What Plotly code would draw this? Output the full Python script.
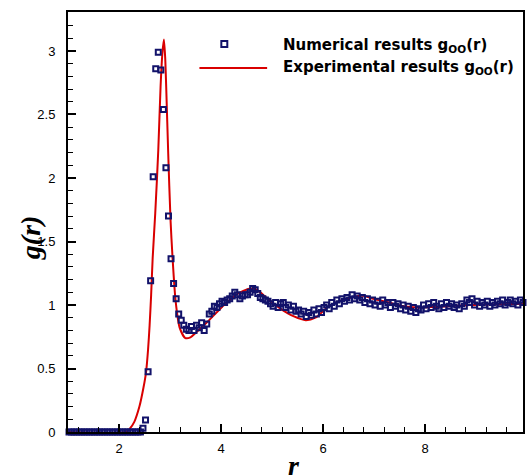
import plotly.graph_objects as go

# ---------------- data ----------------
r_num = [1.02, 1.07, 1.12, 1.17, 1.22, 1.27, 1.32, 1.37, 1.42, 1.47,
         1.52, 1.57, 1.62, 1.67, 1.72, 1.77, 1.82, 1.87, 1.92, 1.97,
         2.02, 2.07, 2.12, 2.17, 2.22, 2.27, 2.32, 2.37, 2.42, 2.47,
         2.52, 2.57, 2.62, 2.67, 2.72, 2.77, 2.82, 2.87, 2.92, 2.97,
         3.02, 3.07, 3.12, 3.17, 3.22, 3.27, 3.32, 3.37, 3.42, 3.47,
         3.52, 3.57, 3.62, 3.67, 3.72, 3.77, 3.82, 3.87, 3.92, 3.97,
         4.02, 4.07, 4.12, 4.17, 4.22, 4.27, 4.32, 4.37, 4.42, 4.47,
         4.52, 4.57, 4.62, 4.67, 4.72, 4.77, 4.82, 4.87, 4.92, 4.97,
         5.02, 5.07, 5.12, 5.17, 5.22, 5.27, 5.32, 5.37, 5.42, 5.47,
         5.52, 5.57, 5.62, 5.67, 5.72, 5.77, 5.82, 5.87, 5.92, 5.97,
         6.02, 6.07, 6.12, 6.17, 6.22, 6.27, 6.32, 6.37, 6.42, 6.47,
         6.52, 6.57, 6.62, 6.67, 6.72, 6.77, 6.82, 6.87, 6.92, 6.97,
         7.02, 7.07, 7.12, 7.17, 7.22, 7.27, 7.32, 7.37, 7.42, 7.47,
         7.52, 7.57, 7.62, 7.67, 7.72, 7.77, 7.82, 7.87, 7.92, 7.97,
         8.02, 8.07, 8.12, 8.17, 8.22, 8.27, 8.32, 8.37, 8.42, 8.47,
         8.52, 8.57, 8.62, 8.67, 8.72, 8.77, 8.82, 8.87, 8.92, 8.97,
         9.02, 9.07, 9.12, 9.17, 9.22, 9.27, 9.32, 9.37, 9.42, 9.47,
         9.52, 9.57, 9.62, 9.67, 9.72, 9.77, 9.82, 9.87, 9.92]

g_num = [0.0, 0.0, 0.0, 0.0, 0.0, 0.0, 0.0, 0.0, 0.0, 0.0,
         0.0, 0.0, 0.0, 0.0, 0.0, 0.0, 0.0, 0.0, 0.0, 0.0,
         0.0, 0.0, 0.0, 0.0, 0.0, 0.0, 0.0, 0.0, 0.0,
         0.03, 0.095, 0.475, 1.19, 2.01, 2.86, 2.99, 2.85, 2.54, 2.08, 1.70,
         1.365, 1.17, 1.05, 0.93, 0.88, 0.84, 0.81, 0.80, 0.83, 0.80,
         0.84, 0.82, 0.86, 0.80, 0.85, 0.93, 0.95, 0.99, 0.98, 1.01,
         1.03, 1.02, 1.04, 1.05, 1.07, 1.10, 1.08, 1.05, 1.07, 1.08,
         1.08, 1.10, 1.13, 1.12, 1.09, 1.06, 1.05, 1.04, 1.03, 1.01,
         0.99, 1.02, 0.98, 1.01, 1.02, 0.98, 1.00, 0.96, 0.99, 0.95,
         0.96, 0.93, 0.95, 0.91, 0.94, 0.92, 0.96, 0.93, 0.97, 0.94,
         0.98, 1.00, 0.97, 1.02, 0.99, 1.04, 1.01, 1.05, 1.03, 1.06,
         1.04, 1.08, 1.05, 1.07, 1.04, 1.06, 1.02, 1.05, 1.01, 1.04,
         1.00, 1.03, 0.99, 1.04, 1.00, 1.02, 0.98, 1.02, 0.99, 1.01,
         0.97, 1.00, 0.96, 0.99, 0.95, 0.98, 0.94, 0.97, 0.96, 1.00,
         0.97, 1.01, 0.98, 1.02, 0.99, 0.97, 1.01, 0.98, 1.02, 0.99,
         1.01, 0.98, 1.00, 0.97, 1.01, 0.99, 1.04, 1.02, 1.05, 1.00,
         1.03, 0.99, 1.02, 1.00, 1.03, 0.99, 1.02, 1.00, 1.03, 1.01,
         1.04, 1.00, 1.02, 1.04, 1.01, 1.03, 1.00, 1.04, 1.02]

r_exp = [1.00, 2.14, 2.20, 2.30, 2.40, 2.48, 2.53, 2.57, 2.60, 2.63,
         2.66, 2.71, 2.77, 2.815, 2.85, 2.88, 2.905, 2.925, 2.965, 3.01,
         3.05, 3.11, 3.19, 3.30, 3.40, 3.50, 3.74, 4.06, 4.33, 4.58,
         4.70, 4.91, 5.17, 5.43, 5.66, 5.85, 6.11, 6.38, 6.70, 6.83,
         6.96, 7.29, 7.58, 7.84, 8.20, 8.88, 9.92]
g_exp = [0.0, 0.0, 0.02, 0.08, 0.20, 0.35, 0.47, 0.65, 0.84, 1.08,
         1.37, 1.72, 2.22, 2.72, 2.98, 3.09, 2.95, 2.72, 2.19, 1.67,
         1.37, 1.03, 0.82, 0.74, 0.745, 0.78, 0.87, 1.00, 1.09, 1.13,
         1.12, 1.05, 0.97, 0.91, 0.88, 0.90, 0.99, 1.04, 1.07, 1.07,
         1.05, 1.02, 0.99, 0.98, 0.985, 1.00, 1.01]

x_ticks = [2, 4, 6, 8]
y_ticks = [0, 0.5, 1, 1.5, 2, 2.5, 3]
x_tick_labels = ["2", "4", "6", "8"]
y_tick_labels = ["0", "0.5", "1", "1.5", "2", "2.5", "3"]

NAVY = "#12126a"
RED = "#d90000"

fig = go.Figure()
fig.add_trace(go.Scatter(
    x=r_exp, y=g_exp, mode="lines",
    line=dict(color=RED, width=2, shape="spline", smoothing=0.7),
    cliponaxis=False, showlegend=False))
fig.add_trace(go.Scatter(
    x=r_num, y=g_num, mode="markers",
    marker=dict(symbol="square-open", size=5, color=NAVY,
                line=dict(color=NAVY, width=2)),
    cliponaxis=False, showlegend=False))

# plot area in px: x 68..525, y 12..432
def px(xp):
    return (xp - 68) / 457.0

def py(yp):
    return (432 - yp) / 420.0

shapes = [
    dict(type="rect", xref="paper", yref="paper",
         x0=px(222), x1=px(228), y0=py(47), y1=py(41),
         line=dict(color=NAVY, width=2), fillcolor="white"),
    dict(type="line", xref="paper", yref="paper",
         x0=px(200), x1=px(268), y0=py(68), y1=py(68),
         line=dict(color=RED, width=2)),
]

legend_font = dict(family="DejaVu Sans", size=15, color="black")
annotations = [
    dict(xref="paper", yref="paper", x=px(282), y=py(45), xanchor="left",
         yanchor="middle", showarrow=False, font=legend_font,
         text="<b>Numerical results g<sub>OO</sub>(r)</b>"),
    dict(xref="paper", yref="paper", x=px(282), y=py(67), xanchor="left",
         yanchor="middle", showarrow=False, font=legend_font,
         text="<b>Experimental results g<sub>OO</sub>(r)</b>"),
    dict(xref="paper", yref="paper", x=px(30), y=py(238), xanchor="center",
         yanchor="middle", showarrow=False, textangle=-90,
         font=dict(family="Liberation Serif, Times New Roman", size=28, color="black"),
         text="<b><i>g(r)</i></b>"),
    dict(xref="paper", yref="paper", x=px(295), y=py(465), xanchor="center",
         yanchor="middle", showarrow=False,
         font=dict(family="Liberation Serif, Times New Roman", size=28, color="black"),
         text="<b><i>r</i></b>"),
]

tick_font = dict(family="Liberation Sans, Arial", size=13, color="black")

fig.update_layout(
    width=528, height=475,
    margin=dict(l=68, r=3, t=12, b=43),
    paper_bgcolor="white", plot_bgcolor="white",
    shapes=shapes, annotations=annotations,
    xaxis=dict(range=[1.0, 9.92], tickmode="array", tickvals=x_ticks,
               ticktext=x_tick_labels, ticks="inside", ticklen=8, tickwidth=2,
               tickcolor="black", showline=True, linecolor="black", linewidth=2,
               mirror=True, showgrid=False, zeroline=False, tickfont=tick_font,
               ticklabelstandoff=3,
               minor=dict(tick0=0, dtick=0.4, ticks="inside", ticklen=5,
                          tickwidth=1, tickcolor="black", showgrid=False)),
    yaxis=dict(range=[0, 3.307], tickmode="array", tickvals=y_ticks,
               ticktext=y_tick_labels, ticks="inside", ticklen=8, tickwidth=2,
               tickcolor="black", showline=True, linecolor="black", linewidth=2,
               mirror=True, showgrid=False, zeroline=False, tickfont=tick_font,
               ticklabelstandoff=8,
               minor=dict(tick0=0, dtick=0.1, ticks="inside", ticklen=5,
                          tickwidth=1, tickcolor="black", showgrid=False)),
)

fig.write_html(
    "out.html",
    config={"displayModeBar": False},
    post_script="document.body.style.margin='0';document.body.style.overflow='hidden';",
)
